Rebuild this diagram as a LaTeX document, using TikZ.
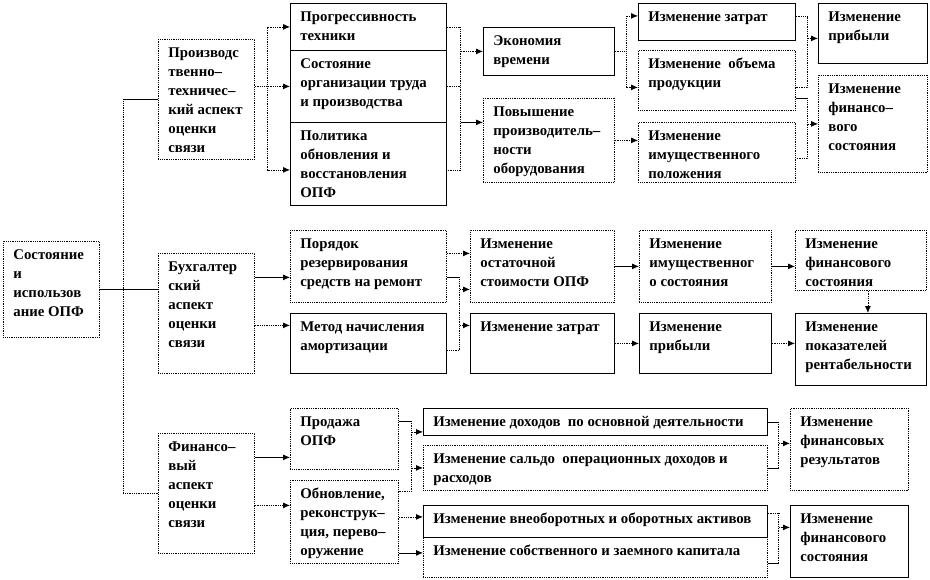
\documentclass[tikz,border=0pt]{standalone}
\usepackage{fontspec}
\setmainfont{Liberation Serif}
\usetikzlibrary{arrows.meta}
\tikzset{
  box/.style 2 args={draw, anchor=north west, inner sep=0pt, inner xsep=10pt,
    font=\fontsize{14.8}{19}\selectfont\bfseries,
    execute at begin node={\begin{minipage}[t][#2pt][t]{\dimexpr#1pt-20pt\relax}\raggedright\rule{0pt}{18.5pt}},
    execute at end node={\end{minipage}}},
  dbox/.style 2 args={box={#1}{#2}, densely dotted},
  arr/.style={-{Latex[length=7pt,width=6pt]}},
  dotl/.style={densely dotted},
}
\begin{document}
\begin{tikzpicture}[x=1pt, y=-1pt, line width=0.8pt]
  \useasboundingbox (0,0) rectangle (930,579);
  % left column
  \node[dbox={96}{96}] (main) at (3,241) {Состояние\\и\\использов\\ание ОПФ};
  \node[dbox={96}{120}] (A1) at (158,39) {Производс\\твенно–\\техничес–\\кий аспект\\оценки\\связи};
  \node[dbox={96}{120}] (A2) at (158,253) {Бухгалтер\\ский\\аспект\\оценки\\связи};
  \node[dbox={96}{120}] (A3) at (158,433) {Финансо–\\вый\\ аспект\\оценки\\связи};
  % production aspect
  \node[box={156}{47}] (B1) at (290,3) {Прогрессивность\\техники};
  \node[box={156}{72}] (B2) at (290,50) {Состояние\\организации труда\\и производства};
  \node[box={156}{83}] (B3) at (290,122) {Политика\\обновления и\\восстановления\\ОПФ};
  \node[box={131}{48}] (C1) at (483,27) {Экономия\\времени};
  \node[dbox={131}{84}] (C2) at (483,98) {Повышение\\производитель–\\ности\\оборудования};
  \node[box={157}{37}] (D1) at (638,3) {Изменение затрат};
  \node[dbox={157}{60}] (D2) at (638,50) {Изменение~ объема\\продукции};
  \node[dbox={157}{60}] (D3) at (638,122) {Изменение\\имущественного\\положения};
  \node[box={109}{60}] (E1) at (818,3) {Изменение\\прибыли};
  \node[dbox={109}{97}] (E2) at (818,75) {Изменение\\финансо–\\вого\\состояния};
  % accounting aspect
  \node[dbox={156}{72}] (F1) at (290,230) {Порядок\\резервирования\\средств на ремонт};
  \node[box={156}{60}] (F2) at (290,313) {Метод начисления\\амортизации};
  \node[dbox={144}{72}] (G1) at (470,230) {Изменение\\остаточной\\стоимости ОПФ};
  \node[box={144}{60}] (G2) at (470,313) {Изменение затрат};
  \node[dbox={132}{72}] (H1) at (639,230) {Изменение\\имущественног\\о состояния};
  \node[box={132}{60}] (H2) at (639,313) {Изменение\\прибыли};
  \node[dbox={131}{60}] (I1) at (795,230) {Изменение\\финансового\\состояния};
  \node[box={131}{72}] (I2) at (795,313) {Изменение\\показателей\\рентабельности};
  % financial aspect
  \node[dbox={108}{61}] (J1) at (290,408) {Продажа\\ОПФ};
  \node[dbox={108}{83}] (J2) at (290,480) {Обновление,\\реконструк–\\ция, перево–\\оружение};
  \node[box={344}{27}] (K1) at (423,408) {Изменение доходов~ по основной деятельности};
  \node[dbox={344}{45}] (K2) at (423,445) {Изменение сальдо~ операционных доходов и\\расходов};
  \node[box={344}{32}] (K3) at (423,505) {Изменение внеоборотных и оборотных активов};
  \node[dbox={344}{40}] (K4) at (423,537) {Изменение собственного и заемного капитала};
  \node[dbox={118}{82}] (L1) at (790,408) {Изменение\\финансовых\\результатов};
  \node[box={118}{72}] (L2) at (790,505) {Изменение\\финансового\\состояния};

  % trunk
  \coordinate (trk) at (123,289);
  \draw (main.east) -- (main.east -| A2.west);
  \draw (A1.west) -- (A1.west -| trk);
  \draw[dotl] (A1.west -| trk) -- (A3.west -| trk) -- (A3.west);

  % A1 -> B
  \draw[dotl] ([yshift=13pt]A1.east) -- ++(13,0) coordinate (ja);
  \draw[dotl,arr] (ja) |- (B1.west);
  \draw[dotl,arr] (ja) |- (B2.west);
  \draw[dotl,arr] (ja) |- ([yshift=-6pt]B3.west);
  % B -> C
  \draw[dotl] (B1.east) -| ([xshift=14pt,yshift=-6pt]B3.east) -- ([yshift=-6pt]B3.east);
  \draw[dotl] (B2.east) -- ++(14,0) coordinate (jb);
  \coordinate (c2in) at ([yshift=18pt]C2.west);
  \draw[dotl,arr] (C1.west -| jb) -- (C1.west);
  \draw[arr] (c2in -| jb) -- (c2in);
  % C -> D
  \draw[dotl] (C1.east) -- ++(12,0) coordinate (jc);
  \draw[dotl,arr] (jc) |- ([yshift=6pt]D1.west);
  \draw[dotl,arr] (jc) |- ([yshift=-7pt]D2.west);
  \draw[dotl,arr] (C2.east) -- (C2.east -| D3.west);
  % D -> E
  \draw[dotl] ([yshift=6pt]D1.east) -| ([xshift=12pt,yshift=-7pt]D2.east) -- ([yshift=-7pt]D2.east);
  \coordinate (jd1) at ([xshift=12pt]D1.east);
  \coordinate (e1in) at ([yshift=-5pt]E1.west);
  \draw[dotl,arr] (e1in -| jd1) -- (e1in);
  \draw ([yshift=-18pt]D2.east) -- ++(12,0) coordinate (jd2);
  \draw[dotl] (jd2) |- ([yshift=-6pt]D3.east);
  \draw[dotl,arr] (E2.west -| jd2) -- (E2.west);

  % A2 -> F -> G
  \coordinate (a2o) at ([yshift=36pt]A2.east);
  \coordinate (a2p) at ([yshift=-12pt]A2.east);
  \draw[arr] (a2o) -- (a2o -| F1.west);
  \draw[dotl,arr] (a2p) -- (a2p -| F2.west);
  \coordinate (f1o) at ([yshift=13pt]F1.east);
  \draw[dotl,arr] (f1o) -- (f1o -| G1.west);
  \draw ([yshift=-11pt]F1.east) -- ++(13,0) coordinate (jf);
  \draw[dotl] (jf) |- ([yshift=-7pt]F2.east);
  \coordinate (g1in) at ([yshift=-23pt]G1.west);
  \coordinate (g2in) at ([yshift=18pt]G2.west);
  \draw[dotl,arr] (g1in -| jf) -- (g1in);
  \draw[dotl,arr] (g2in -| jf) -- (g2in);
  \foreach \a/\b in {G1/H1, H1/I1}
    \draw[arr] (\a.east) -- (\a.east -| \b.west);
  \foreach \a/\b in {G2/H2, H2/I2}
    \draw[dotl,arr] (\a.east) -- (\a.east -| \b.west);
  \draw[dotl,arr] ([xshift=7pt]I1.south) -- ([xshift=7pt]I2.north);

  % A3 -> J -> K -> L
  \coordinate (a3o) at ([yshift=36pt]A3.east);
  \coordinate (a3p) at ([yshift=-12pt]A3.east);
  \draw[arr] (a3o) -- (a3o -| J1.west);
  \draw[dotl,arr] (a3p) -- (a3p -| J2.west);
  \draw ([yshift=18pt]J1.east) -- ++(13,0) coordinate (jj);
  \draw[dotl] (jj) |- ([yshift=31pt]J2.east);
  \coordinate (k1in) at ([yshift=-10pt]K1.west);
  \draw[dotl,arr] (k1in -| jj) -- (k1in);
  \draw[dotl,arr] (K2.west -| jj) -- (K2.west);
  \coordinate (j2o) at ([yshift=5pt]J2.east);
  \coordinate (j2p) at ([yshift=-31pt]J2.east);
  \draw[dotl,arr] (j2o) -- (j2o -| K3.west);
  \draw[arr] (j2p) -- (j2p -| K4.west);
  \draw (K1.east) -- ++(11,0) coordinate (jk1);
  \draw[dotl] (jk1) -- (jk1 |- K2.east);
  \draw (K2.east) -- (K2.east -| jk1);
  \coordinate (l1in) at ([yshift=6pt]L1.west);
  \draw[dotl,arr] (l1in -| jk1) -- (l1in);
  \coordinate (k4o) at ([yshift=-6pt]K4.east);
  \draw[dotl] ([yshift=8pt]K3.east) -- ++(11,0) coordinate (jk3);
  \draw[dotl] (jk3) -- (jk3 |- k4o);
  \draw (k4o) -- (k4o -| jk3);
  \coordinate (l2in) at ([yshift=14pt]L2.west);
  \draw[dotl,arr] (l2in -| jk3) -- (l2in);
\end{tikzpicture}
\end{document}
